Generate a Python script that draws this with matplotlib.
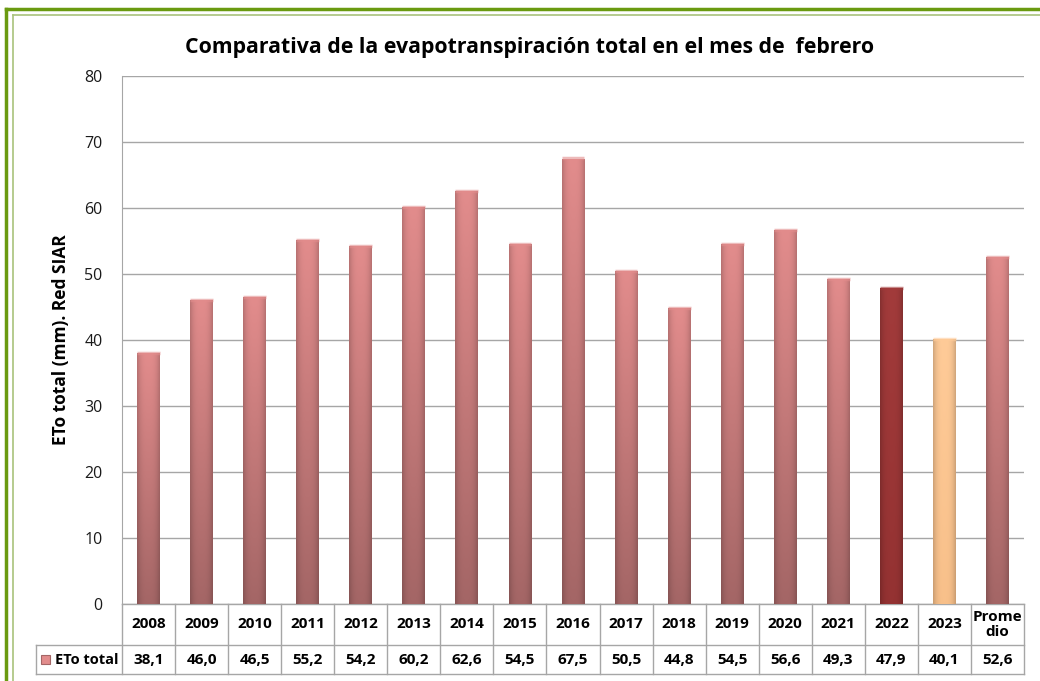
import numpy as np
import matplotlib
matplotlib.use('Agg')
import matplotlib.pyplot as plt
from matplotlib.colors import to_rgb
from matplotlib.lines import Line2D

years = ['2008', '2009', '2010', '2011', '2012', '2013', '2014', '2015', '2016',
         '2017', '2018', '2019', '2020', '2021', '2022', '2023', 'Prome\ndio']
eto = [38.1, 46.0, 46.5, 55.2, 54.2, 60.2, 62.6, 54.5, 67.5,
       50.5, 44.8, 54.5, 56.6, 49.3, 47.9, 40.1, 52.6]
labels = ['38,1', '46,0', '46,5', '55,2', '54,2', '60,2', '62,6', '54,5', '67,5',
          '50,5', '44,8', '54,5', '56,6', '49,3', '47,9', '40,1', '52,6']
series_name = 'ETo total'

# top colour, bottom colour for each bar
normal = ('#e28c8c', '#a46666')
special = {14: ('#a23b3b', '#943232'), 15: ('#ffcb98', '#f8c08a')}

plt.rcParams['font.family'] = ['Open Sans', 'DejaVu Sans']

fig = plt.figure(figsize=(10.4, 6.81), dpi=100)
ax = fig.add_axes([122/1040, 1-604/681, 902/1040, 528/681])

x = np.arange(len(eto))
bw = 0.43
bars = ax.bar(x, eto, width=bw, color='none', edgecolor='none', zorder=3)


def grad_img(top, bot, n=64, m=32):
    t = np.array(to_rgb(top)); b = np.array(to_rgb(bot))
    v = np.linspace(0, 1, n)[:, None, None]
    img = t * (1 - v) + b * v
    h = np.linspace(-1, 1, m)[None, :, None]
    shade = 1 - 0.18 * np.abs(h) ** 3
    return np.clip(img * shade, 0, 1)


for i, b in enumerate(bars):
    top, bot = special.get(i, normal)
    x0, y0 = b.get_x(), b.get_y()
    w, hgt = b.get_width(), b.get_height()
    im = ax.imshow(grad_img(top, bot), extent=[x0, x0 + w, y0, y0 + hgt],
                   aspect='auto', zorder=3, interpolation='bilinear')
    im.set_clip_path(b)
    ax.plot([x0, x0 + w], [y0 + hgt, y0 + hgt], color=top, lw=2.5,
            alpha=0.6, zorder=4, solid_capstyle='butt')

ax.set_xlim(-0.5, len(eto) - 0.5)
ax.set_ylim(0, 80)
ax.set_yticks(range(0, 81, 10))
ax.yaxis.grid(True, color='#a6a6a6', lw=1)
ax.set_axisbelow(True)
ax.set_xticks([])
ax.tick_params(axis='y', length=0, pad=14, labelsize=11.5, labelcolor='#1a1a1a')
for s in ['top', 'right', 'bottom']:
    ax.spines[s].set_visible(False)
ax.spines['left'].set_color('#a6a6a6')

ax.set_ylabel('ETo total (mm). Red SIAR', fontsize=12.5, fontweight='bold')
ax.yaxis.set_label_coords(-0.058, 0.5)

# data table under the axes
tr = ax.get_xaxis_transform()
gc = '#a6a6a6'
h1 = -41/528
h2 = -70/528
xl = -0.5 - 86/53
for k in range(len(eto) + 1):
    ax.add_line(Line2D([k - 0.5, k - 0.5], [0, h2], transform=tr, color=gc, lw=1, clip_on=False))
ax.add_line(Line2D([-0.5, len(eto) - 0.5], [0, 0], transform=tr, color=gc, lw=1, clip_on=False))
ax.add_line(Line2D([xl, len(eto) - 0.5], [h1, h1], transform=tr, color=gc, lw=1, clip_on=False))
ax.add_line(Line2D([xl, len(eto) - 0.5], [h2, h2], transform=tr, color=gc, lw=1, clip_on=False))
ax.add_line(Line2D([xl, xl], [h1, h2], transform=tr, color=gc, lw=1, clip_on=False))

for i in range(len(eto)):
    ax.text(x[i], h1 / 2, years[i], transform=tr, ha='center', va='center',
            fontsize=11, fontweight='bold', linespacing=1.1)
    ax.text(x[i], (h1 + h2) / 2, labels[i], transform=tr, ha='center', va='center',
            fontsize=11, fontweight='bold')

ax.text(-0.5 - 67/53, (h1 + h2) / 2, series_name, transform=tr, ha='left', va='center',
        fontsize=10.5, fontweight='bold')
ax.add_patch(plt.Rectangle((-0.5 - 81/53, (h1 + h2) / 2 - 0.009), 9/53, 0.018,
                           transform=tr, facecolor=normal[0], edgecolor=normal[1],
                           lw=0.8, clip_on=False))

fig.text(530/1040, 1 - 47/681, 'Comparativa de la evapotranspiración total en el mes de  febrero',
         ha='center', va='center', fontsize=15.3, fontweight='bold')

# green frame
fig.add_artist(Line2D([6/1040, 6/1040], [0, 1 - 9/681], color='#6a9a10', lw=2.5))
fig.add_artist(Line2D([6/1040, 1], [1 - 9/681, 1 - 9/681], color='#6a9a10', lw=2.5))
fig.add_artist(Line2D([12.5/1040, 12.5/1040], [0, 1 - 14.5/681], color='#a9c27c', lw=1.2))
fig.add_artist(Line2D([12.5/1040, 1], [1 - 14.5/681, 1 - 14.5/681], color='#a9c27c', lw=1.2))

fig.savefig('out.png', dpi=100)
